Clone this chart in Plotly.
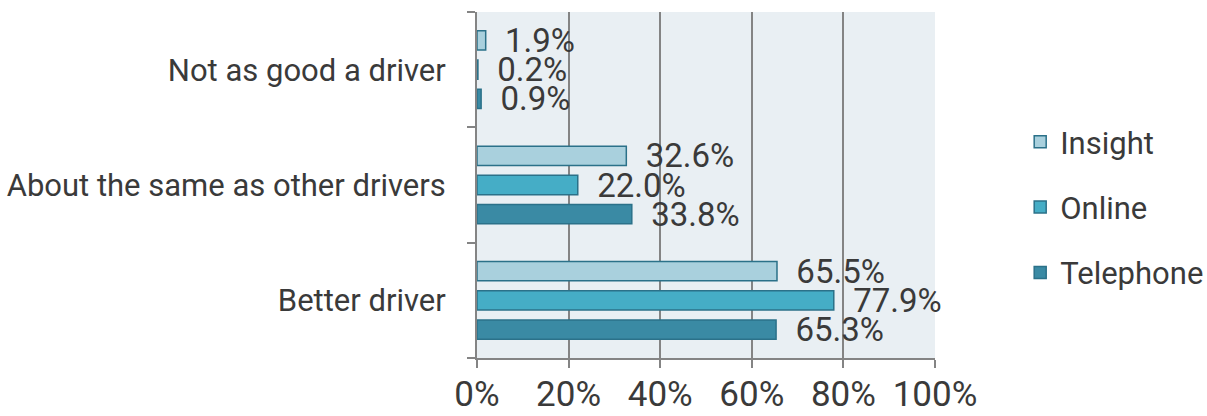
import plotly.graph_objects as go

categories = ["Better driver", "About the same as other drivers", "Not as good a driver"]
insight = [65.5, 32.6, 1.9]
online = [77.9, 22.0, 0.2]
telephone = [65.3, 33.8, 0.9]
x_ticks = [0, 20, 40, 60, 80, 100]
x_tick_labels = ["0%", "20%", "40%", "60%", "80%", "100%"]

FONT = "Roboto"
TXT = "#3a3a3a"
BORDER = "#2b7189"

fig = go.Figure()
series = [
    ("Telephone", telephone, "#3a8aa4", 3),
    ("Online", online, "#45adc6", 2),
    ("Insight", insight, "#a9d0dd", 1),
]
for name, vals, col, rank in series:
    fig.add_trace(go.Bar(
        name=name, y=categories, x=vals, orientation="h", legendgroup=name, legendrank=rank,
        marker=dict(color=col, line=dict(color=BORDER, width=1.5)),
        text=vals, texttemplate="\u00a0\u00a0%{x:.1f}%", textposition="outside",
        constraintext="none", cliponaxis=False,
        textfont=dict(family=FONT, size=33, color=TXT),
        hoverinfo="skip",
    ))

fig.update_layout(
    width=1207, height=416,
    margin=dict(l=477, r=272, t=12, b=58, autoexpand=False),
    paper_bgcolor="white", plot_bgcolor="#e9eff3",
    barmode="group", bargap=0.24, bargroupgap=0.34,
    font=dict(family=FONT, color=TXT),
    legend=dict(
        traceorder="grouped", x=1.186, xanchor="left", y=0.436, yanchor="middle",
        font=dict(family=FONT, size=31, color=TXT), itemwidth=30,
        tracegroupgap=22, bgcolor="rgba(0,0,0,0)",
    ),
    showlegend=True,
)
fig.update_xaxes(
    range=[0, 100], tickvals=x_ticks, ticktext=x_tick_labels, automargin=False,
    showgrid=True, gridcolor="#848484", gridwidth=2,
    showline=True, linecolor="#848484", linewidth=2,
    ticks="outside", ticklen=8, tickwidth=2, tickcolor="#848484",
    tickfont=dict(family=FONT, size=35, color=TXT), zeroline=False,
    ticklabelstandoff=-4,
)
fig.update_yaxes(
    categoryorder="array", categoryarray=categories, automargin=False,
    showline=True, linecolor="#848484", linewidth=2,
    ticks="outside", tickson="boundaries", ticklen=8, tickwidth=2, tickcolor="#848484",
    tickfont=dict(family=FONT, size=31, color=TXT), showgrid=False,
    ticklabelstandoff=23,
)
fig.write_html(
    "out.html",
    config={"displayModeBar": False},
    post_script="document.body.style.margin='0';document.body.style.overflow='hidden';",
)
